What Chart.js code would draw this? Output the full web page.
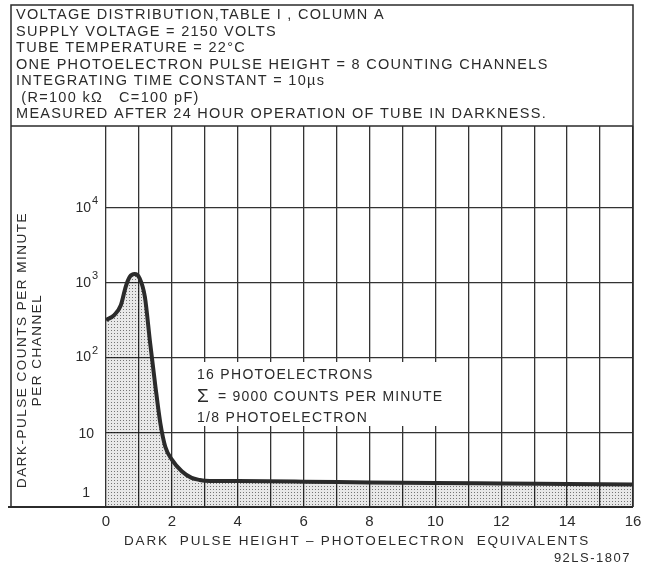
<!DOCTYPE html>
<html>
<head>
<meta charset="utf-8">
<script src="https://cdn.jsdelivr.net/npm/chart.js@4.4.1/dist/chart.umd.min.js"></script>
<style>
  html, body { margin: 0; padding: 0; background: #fff; }
</style>
</head>
<body>
<canvas id="darkPulse" width="649" height="569"></canvas>
<script>
// 데이터 ==============================================================
// x: dark pulse height (photoelectron equivalents)
const pulseHeight = [0, 0.25, 0.45, 0.6, 0.72, 0.87, 1.02, 1.18, 1.34, 1.5, 1.65, 1.8, 2.0, 2.3, 2.6, 2.85, 3, 4, 6, 8, 10, 12, 14, 16];
// y: dark-pulse counts per minute per channel
const countsPerMinute = [317, 370, 500, 890, 1200, 1310, 1150, 650, 156, 41, 13.2, 6.4, 4.3, 3.0, 2.45, 2.3, 2.25, 2.22, 2.18, 2.13, 2.09, 2.06, 2.03, 2.0];
// y 눈금 (decades)
const yTickValues = [1, 10, 100, 1000, 10000];
// x 눈금 라벨 (every 2 units)
const xLabelStep = 2;

const headerLines = [
    'VOLTAGE DISTRIBUTION,TABLE I , COLUMN A',
    'SUPPLY VOLTAGE = 2150 VOLTS',
    'TUBE TEMPERATURE = 22°C',
    'ONE PHOTOELECTRON PULSE HEIGHT = 8 COUNTING CHANNELS',
    'INTEGRATING TIME CONSTANT = 10µs',
    ' (R=100 kΩ   C=100 pF)',
    'MEASURED AFTER 24 HOUR OPERATION OF TUBE IN DARKNESS.'
];
const noteLines = ['16 PHOTOELECTRONS', '= 9000 COUNTS PER MINUTE', '1/8 PHOTOELECTRON'];

const INK = '#2b2b2b';
const FONT = '"Liberation Sans", Arial, sans-serif';

// 점무늬 채우기 패턴
function makeStipple() {
    const c = document.createElement('canvas');
    c.width = 3; c.height = 3;
    const g = c.getContext('2d');
    g.fillStyle = 'rgba(0,0,0,0.09)';
    g.fillRect(0, 0, 3, 3);
    g.fillStyle = 'rgba(0,0,0,0.5)';
    g.fillRect(0, 0, 1, 1);
    return g.createPattern(c, 'repeat');
}

// 글자 그리기 (spacing = 자간)
function text(ctx, s, x, y, size, align, spacing) {
    ctx.font = size + 'px ' + FONT;
    ctx.letterSpacing = (spacing || 0) + 'px';
    ctx.textAlign = align || 'left';
    ctx.textBaseline = 'middle';
    ctx.fillStyle = INK;
    ctx.fillText(s, x, y);
    ctx.letterSpacing = '0px';
}

// 프레임, 텍스트 그리기
const decorPlugin = {
    id: 'decor',
    beforeDatasetsDraw(chart) {
        // white box behind the note (grid lines broken there)
        const ctx = chart.ctx;
        ctx.save();
        ctx.fillStyle = '#fff';
        ctx.fillRect(190, 362, 262, 64);
        ctx.restore();
    },
    afterDraw(chart) {
        const ctx = chart.ctx;
        const y = chart.scales.y;
        const area = chart.chartArea;
        ctx.save();

        // frame
        ctx.strokeStyle = INK;
        ctx.lineWidth = 1.5;
        ctx.beginPath();
        ctx.moveTo(11, area.bottom);
        ctx.lineTo(11, 5);
        ctx.lineTo(area.right, 5);
        ctx.lineTo(area.right, area.bottom);
        ctx.moveTo(11, area.top);
        ctx.lineTo(area.right, area.top);
        ctx.stroke();
        ctx.lineWidth = 2;
        ctx.beginPath();
        ctx.moveTo(8, area.bottom);
        ctx.lineTo(area.right, area.bottom);
        ctx.stroke();

        // header text
        headerLines.forEach((s, i) => text(ctx, s, 16, 15 + i * 16.5, 14.5, 'left', 1.3));

        // note
        text(ctx, noteLines[0], 197, 375, 14, 'left', 1.3);
        text(ctx, 'Σ', 197, 397, 19, 'left');
        text(ctx, noteLines[1], 218, 397, 14, 'left', 1.2);
        text(ctx, noteLines[2], 197, 418, 14, 'left', 1.3);

        // y tick labels
        yTickValues.forEach((v) => {
            const py = y.getPixelForValue(v);
            const exp = Math.round(Math.log10(v));
            if (exp === 0) {
                text(ctx, '1', 90, py - 14, 14, 'right');
            } else if (exp === 1) {
                text(ctx, '10', 94, py + 2, 14, 'right');
            } else {
                text(ctx, '10', 91, py, 14, 'right');
                text(ctx, String(exp), 92, py - 7, 11, 'left');
            }
        });

        // y title (rotated)
        ctx.save();
        ctx.translate(22, 350);
        ctx.rotate(-Math.PI / 2);
        text(ctx, 'DARK-PULSE COUNTS PER MINUTE', 0, 0, 13.5, 'center', 1.5);
        text(ctx, 'PER CHANNEL', 0, 15, 13.5, 'center', 1.5);
        ctx.restore();

        // x title + drawing number
        text(ctx, 'DARK  PULSE HEIGHT – PHOTOELECTRON  EQUIVALENTS', 357, 541, 13.5, 'center', 1.8);
        text(ctx, '92LS-1807', 631, 558, 13, 'right', 1.5);

        ctx.restore();
    }
};

const points = pulseHeight.map((x, i) => ({ x: x, y: countsPerMinute[i] }));

const chart = new Chart(document.getElementById('darkPulse'), {
    type: 'line',
    data: {
        datasets: [{
            data: points,
            borderColor: INK,
            borderWidth: 4,
            backgroundColor: makeStipple(),
            fill: 'start',
            pointRadius: 0,
            cubicInterpolationMode: 'monotone'
        }]
    },
    options: {
        responsive: false,
        animation: false,
        devicePixelRatio: 1,
        layout: { padding: { left: 106, top: 126, right: 16, bottom: 0 } },
        plugins: { legend: { display: false }, tooltip: { enabled: false } },
        scales: {
            x: {
                type: 'linear',
                min: 0,
                max: 16,
                afterFit: (s) => { s.height = 62; },
                ticks: {
                    stepSize: 1,
                    autoSkip: false,
                    maxRotation: 0,
                    padding: 6,
                    color: INK,
                    font: { family: FONT, size: 15 },
                    callback: (v) => (v % xLabelStep === 0 ? String(v) : '')
                },
                grid: { color: '#333', lineWidth: 1.3, drawTicks: false },
                border: { display: false }
            },
            y: {
                type: 'logarithmic',
                min: 1,
                max: 125000,
                afterFit: (s) => { s.width = 0; },
                afterBuildTicks: (s) => { s.ticks = yTickValues.map((v) => ({ value: v })); },
                ticks: { display: false },
                grid: { color: '#333', lineWidth: 1.3, drawTicks: false },
                border: { display: false }
            }
        }
    },
    plugins: [decorPlugin]
});
</script>
</body>
</html>
